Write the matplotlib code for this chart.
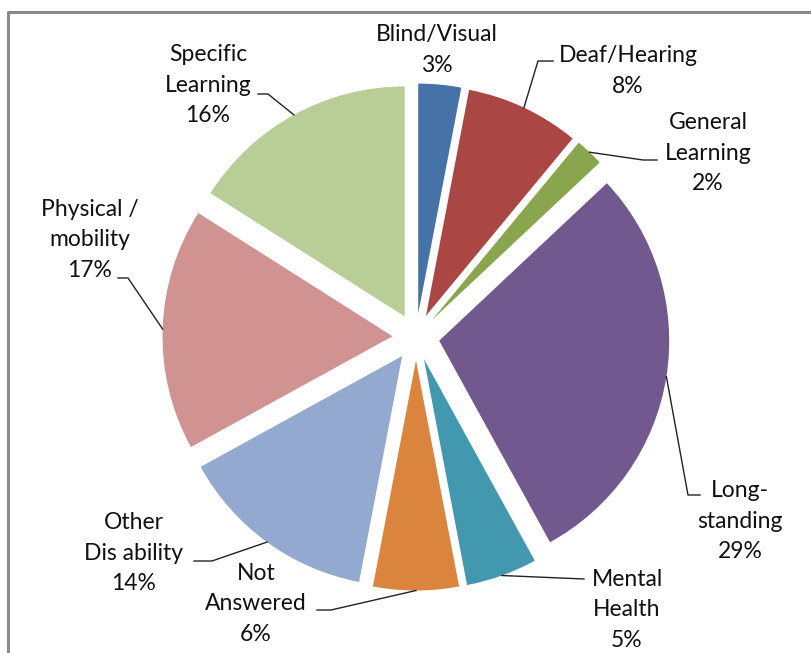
import matplotlib.pyplot as plt
import numpy as np

categories = ['Blind/Visual', 'Deaf/Hearing', 'General\nLearning', 'Long-\nstanding',
              'Mental\nHealth', 'Not\nAnswered', 'Other\nDis ability',
              'Physical /\nmobility', 'Specific\nLearning']
shares = [3, 8, 2, 29, 5, 6, 14, 17, 16]
colors = ['#4572A7', '#AA4643', '#89A54E', '#71588F', '#4198AF',
          '#DB843D', '#93A9CF', '#D19392', '#B9CD96']

# label block centres and leader bends, pixels from the top left
label_pos = [(437, 50), (628, 71), (708, 153), (740, 521), (627, 610),
             (256, 604), (134, 553), (90, 240), (208, 85)]
leaders = [None, [(538, 61), (553, 61)], [(643, 160), (657, 160)],
           [(688, 495), (700, 495)], [(584, 579)], [(331, 610), (317, 610)],
           [(212, 561), (194, 561)], [(128, 278), (118, 278)],
           [(268, 94), (258, 94)]]

plt.rcParams['font.family'] = ['Lato', 'DejaVu Sans']

fig = plt.figure(figsize=(8.11, 6.53), dpi=100)
ax = fig.add_axes([0, 0, 1, 1])

# y axis runs downward, so counterclock in data = clockwise on screen
wedges, _ = ax.pie(shares, colors=colors, startangle=270, counterclock=True,
                   radius=230, center=(416, 337), explode=[23.5] * len(shares),
                   wedgeprops=dict(linewidth=0))

for i, w in enumerate(wedges):
    tx, ty = label_pos[i]
    ax.text(tx, ty, f"{categories[i]}\n{shares[i]}%", ha='center', va='center',
            fontsize=16.5, linespacing=1.58, color='#111111')
    if leaders[i] is None:
        continue
    th = np.deg2rad((w.theta1 + w.theta2) / 2)
    cx, cy = w.center
    pts = [(cx + w.r * np.cos(th), cy + w.r * np.sin(th))] + leaders[i]
    xs, ys = zip(*pts)
    ax.plot(xs, ys, color='#222222', lw=1)

# chart border
ax.plot([8, 8, 811], [653, 12, 12], color='#8a8a8a', lw=2.2, clip_on=False)

ax.set_xlim(0, 811)
ax.set_ylim(653, 0)
ax.set_aspect('auto')
ax.axis('off')

fig.savefig('out.png', dpi=100)
